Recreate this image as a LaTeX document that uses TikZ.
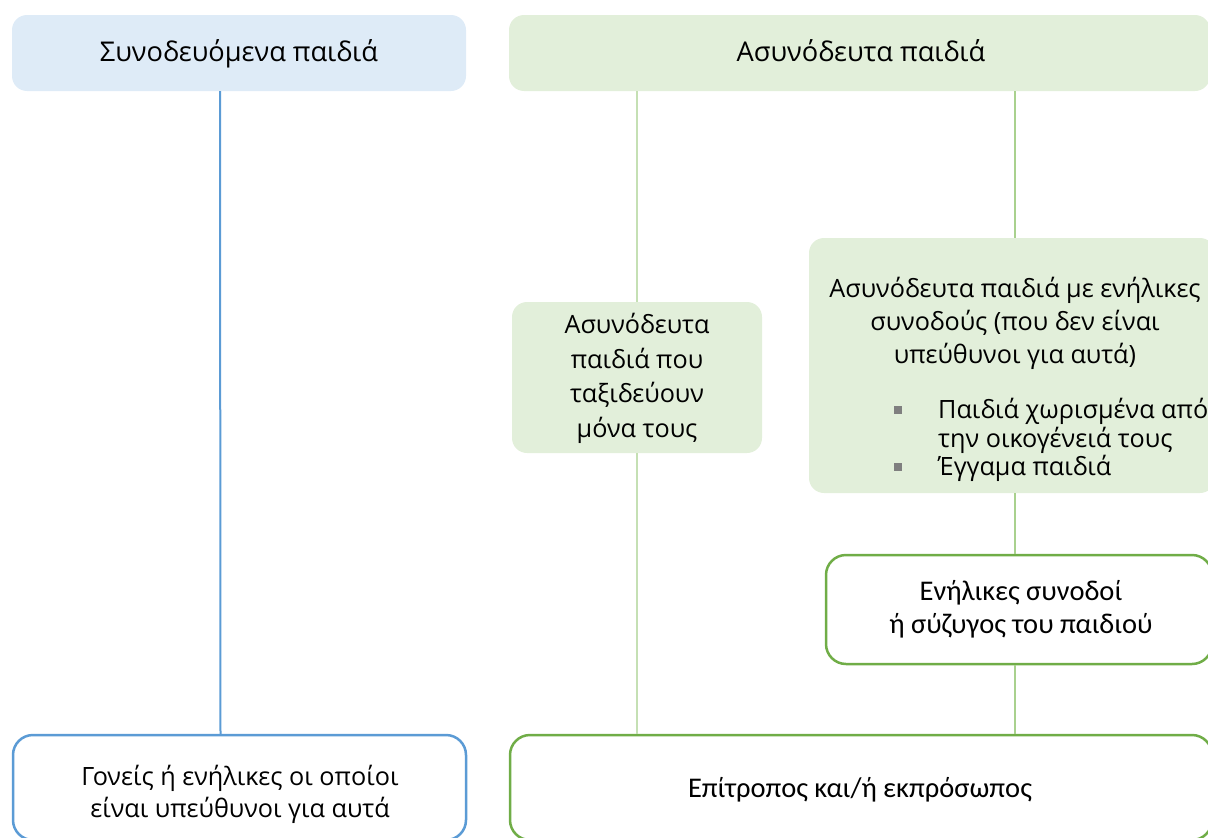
\documentclass[tikz,border=0pt]{standalone}
\usepackage{fontspec}
\setmainfont{Open Sans}
\newfontfamily\calib{Carlito}
\definecolor{bluefill}{RGB}{222,235,247}
\definecolor{greenfill}{RGB}{226,239,218}
\definecolor{bluedraw}{RGB}{91,155,213}
\definecolor{greendraw}{RGB}{112,173,71}
\definecolor{lgline}{RGB}{197,224,180}
\definecolor{mgline}{RGB}{169,209,142}
\definecolor{bulletgray}{RGB}{127,127,127}
\begin{document}
\begin{tikzpicture}[x=1pt,y=-1pt,
  softbox/.style={rectangle, rounded corners=15pt, inner sep=0pt, draw=none},
  linebox/.style={rectangle, rounded corners=20pt, inner sep=0pt, fill=white, line width=2.5pt},
  titletext/.style={anchor=base, inner sep=0pt, font=\fontsize{27.2}{32}\selectfont},
  bodytext/.style={anchor=base, inner sep=0pt, font=\fontsize{25.2}{30}\selectfont},
  caltext/.style={anchor=base, inner sep=0pt, font=\calib\fontsize{28.5}{33}\selectfont},
  bulletmark/.style={rectangle, fill=bulletgray, minimum size=8pt, inner sep=0pt},
  conn/.style={line width=2pt}
]
\useasboundingbox (0,0) rectangle (1208,838);
\clip (0,0) rectangle (1208,838);

% boxes
\node[softbox, fill=bluefill, minimum width=454pt, minimum height=76pt] (acc) at (239,53) {};
\node[softbox, fill=greenfill, minimum width=701pt, minimum height=76pt] (unacc) at (859.5,53) {};
\node[softbox, fill=greenfill, minimum width=250pt, minimum height=151pt] (alone) at (637,377.5) {};
\node[softbox, fill=greenfill, minimum width=406pt, minimum height=255pt] (withadult) at (1012,365.5) {};
\node[linebox, draw=greendraw, minimum width=386pt, minimum height=109pt] (spouse) at (1019,609.5) {};
\node[linebox, draw=bluedraw, minimum width=453pt, minimum height=105pt] (parents) at (239.5,787.5) {};
\node[linebox, draw=greendraw, minimum width=702pt, minimum height=105pt] (guardian) at (861,787.5) {};

% connectors
\draw[conn, bluedraw] ([xshift=-19pt]acc.south) -- ([xshift=-19pt]parents.north);
\draw[conn, lgline] (unacc.south -| alone.north) -- (alone.north);
\draw[conn, lgline] (alone.south) -- (guardian.north -| alone.south);
\draw[conn, mgline] (unacc.south -| 1015,0) -- (withadult.north -| 1015,0);
\draw[conn, mgline] (withadult.south -| 1015,0) -- (spouse.north -| 1015,0);
\draw[conn, mgline] (spouse.south -| 1015,0) -- (guardian.north -| 1015,0);

% texts
\node[titletext] (t1) at (239,61) {Συνοδευόμενα παιδιά};
\node[titletext] (t2) at (861,61) {Ασυνόδευτα παιδιά};

\node[bodytext] (a1) at (637,333) {Ασυνόδευτα};
\node[bodytext] (a2) at (637,368) {παιδιά που};
\node[bodytext] (a3) at (637,402) {ταξιδεύουν};
\node[bodytext] (a4) at (637,437) {μόνα τους};

\node[bodytext] (w1) at (1015,297) {Ασυνόδευτα παιδιά με ενήλικες};
\node[bodytext] (w2) at (1015,330) {συνοδούς (που δεν είναι};
\node[bodytext] (w3) at (1015,363) {υπεύθυνοι για αυτά)};
\node[bodytext, anchor=base west] (b1) at (938,418) {Παιδιά χωρισμένα από};
\node[bodytext, anchor=base west] (b2) at (938,447) {την οικογένειά τους};
\node[bodytext, anchor=base west] (b3) at (938,475) {Έγγαμα παιδιά};
\node[bulletmark] (m1) at (898,410) {};
\node[bulletmark] (m3) at (898,467) {};

\node[caltext] (s1) at (1021,600) {Ενήλικες συνοδοί};
\node[caltext] (s2) at (1021,633) {ή σύζυγος του παιδιού};

\node[bodytext] (p1) at (240,785) {Γονείς ή ενήλικες οι οποίοι};
\node[bodytext] (p2) at (240,817) {είναι υπεύθυνοι για αυτά};

\node[caltext] (g1) at (860,797) {Επίτροπος και/ή εκπρόσωπος};
\end{tikzpicture}
\end{document}
